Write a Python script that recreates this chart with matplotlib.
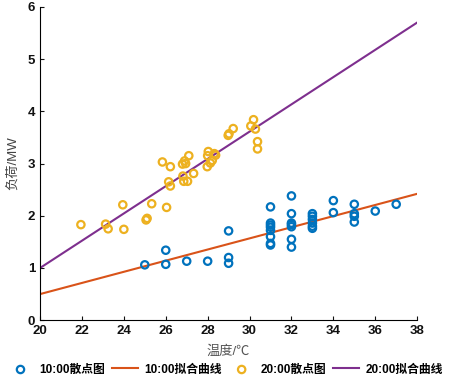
import matplotlib.pyplot as plt

plt.rcParams['font.family'] = ['Liberation Sans', 'Noto Sans CJK SC', 'DejaVu Sans']
plt.rcParams['font.weight'] = 'bold'

# 10:00 散点
x10 = [25, 26, 26, 27, 28, 29, 29, 29,
       31, 31, 31, 31, 31, 31, 31, 31,
       32, 32, 32, 32, 32, 32, 32,
       33, 33, 33, 33, 33, 33,
       34, 34, 35, 35, 35, 35, 36, 37]
y10 = [1.06, 1.34, 1.07, 1.13, 1.13, 1.71, 1.20, 1.09,
       2.17, 1.86, 1.82, 1.78, 1.72, 1.60, 1.47, 1.44,
       2.38, 2.04, 1.86, 1.83, 1.79, 1.55, 1.40,
       2.04, 1.99, 1.93, 1.86, 1.80, 1.76,
       2.29, 2.06, 2.22, 2.04, 1.99, 1.88, 2.09, 2.22]

# 20:00 散点
x20 = [21.95, 23.13, 23.25, 23.95, 24.0, 25.06, 25.11, 25.33, 25.84, 26.04,
       26.14, 26.22, 26.22, 26.8, 26.9, 26.95, 26.82, 26.86, 27.04, 27.1,
       27.33, 27.98, 28.0, 28.03, 28.13, 28.22, 28.32, 28.38, 28.98, 29.02,
       29.22, 30.06, 30.19, 30.28, 30.38, 30.38]
y20 = [1.83, 1.84, 1.75, 2.21, 1.74, 1.92, 1.95, 2.23, 3.03, 2.16,
       2.65, 2.57, 2.94, 2.99, 3.05, 3.00, 2.76, 2.66, 2.66, 3.15,
       2.81, 2.94, 3.15, 3.23, 3.01, 3.06, 3.19, 3.16, 3.54, 3.57,
       3.67, 3.72, 3.84, 3.66, 3.42, 3.28]

# 拟合曲线 (端点)
fit_x = [20, 38]
fit10 = [0.5, 2.42]
fit20 = [1.0, 5.7]

x_ticks = list(range(20, 39, 2))
y_ticks = list(range(0, 7))

fig = plt.figure(figsize=(4.5, 3.83), dpi=100)
ax = fig.add_axes([0.089, 0.164, 0.838, 0.818])

ax.scatter(x10, y10, s=28, facecolors='none', edgecolors='#0072BD',
           linewidths=1.6, label='10:00散点图', zorder=3)
ax.plot(fit_x, fit10, color='#D95319', lw=1.5, label='10:00拟合曲线', zorder=2)
ax.scatter(x20, y20, s=28, facecolors='none', edgecolors='#EDB120',
           linewidths=1.6, label='20:00散点图', zorder=3)
ax.plot(fit_x, fit20, color='#7E2F8E', lw=1.5, label='20:00拟合曲线', zorder=2)

ax.set_xlim(20, 38)
ax.set_ylim(0, 6)
ax.set_xticks(x_ticks, [str(v) for v in x_ticks], fontweight='bold', fontsize=9.5)
ax.set_yticks(y_ticks, [str(v) for v in y_ticks], fontweight='bold', fontsize=9.5)
ax.spines['top'].set_visible(False)
ax.spines['right'].set_visible(False)
ax.tick_params(direction='in', length=3, colors='#111111')

ax.set_xlabel('温度/℃', fontsize=9.5, color='#555555', labelpad=6,
              fontweight='normal')
ax.set_ylabel('负荷/MW', fontsize=9.5, color='#444444', labelpad=6,
              fontweight='normal')

fig.legend(loc='center', bbox_to_anchor=(0.5, 0.035), ncol=4,
           frameon=False, fontsize=8.5, handlelength=2.2,
           handletextpad=0.5, columnspacing=0.6, borderaxespad=0)

fig.savefig('out.png', dpi=100)
